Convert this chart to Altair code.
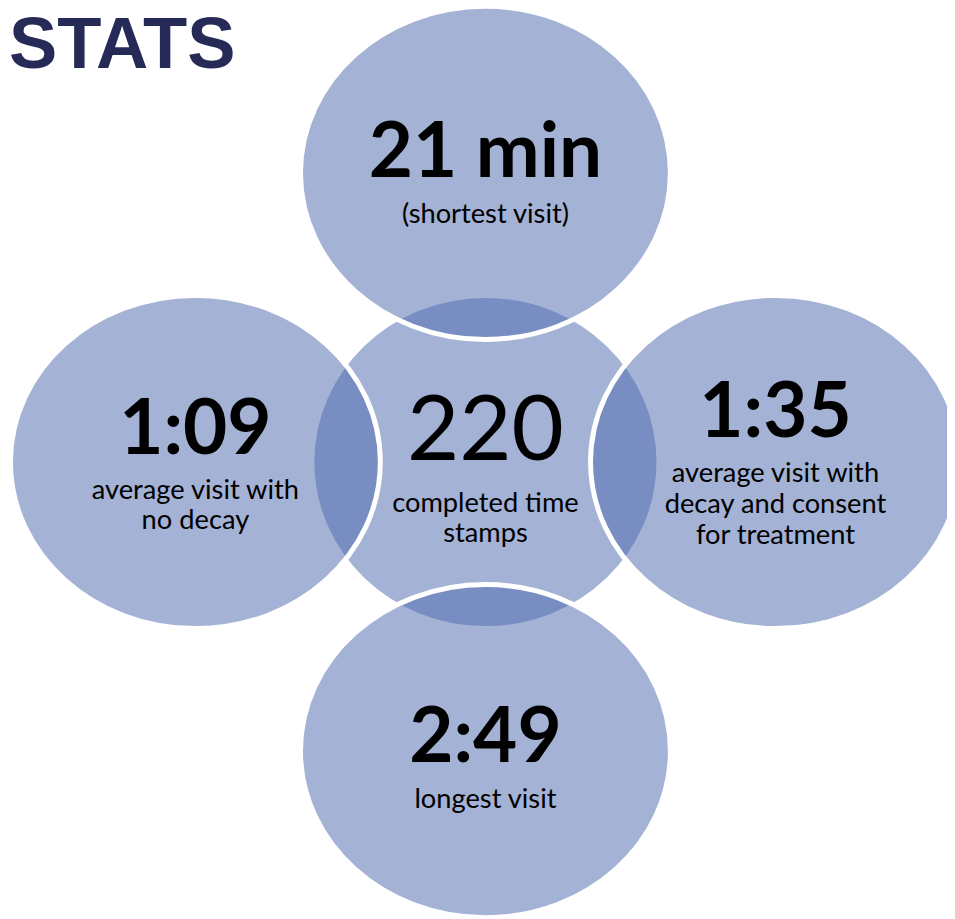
import altair as alt
import pandas as pd

# ---- diagram content -------------------------------------------------------
bubble_col = [0, 0, -1, 1, 0]          # grid column of each bubble (0 = centre)
bubble_row = [0, -1, 0, 0, 1]          # grid row of each bubble (0 = centre)
bubble_kind = ["core", "petal", "petal", "petal", "petal"]
headline = ["220", "21 min", "1:09", "1:35", "2:49"]
caption = [
    ["completed time", "stamps"],
    ["(shortest visit)"],
    ["average visit with", "no decay"],
    ["average visit with", "decay and consent", "for treatment"],
    ["longest visit"],
]
title_text = ["STATS"]

# ---- layout (pixels inside the plot area) -----------------------------------
W, H = 947, 911
X0, DX = 481.5, 292.5
Y0, DY = 454.0, 291.5
LINE = 31
STROKE = 5

bubbles = pd.DataFrame({
    "col": bubble_col,
    "row": bubble_row,
    "kind": bubble_kind,
    "headline": headline,
    "n": [len(c) for c in caption],
})
bubbles["cx"] = X0 + bubbles["col"] * DX
bubbles["cy"] = Y0 + bubbles["row"] * DY
is_core = bubbles["kind"] == "core"
petal_off = 8 - (bubbles["n"] - 1) * 16.5 + bubbles["row"] * 3.5
bubbles["head_y"] = bubbles["cy"] + petal_off.where(~is_core, -2)
bubbles["cap_y0"] = bubbles["head_y"] + pd.Series(45.5, index=bubbles.index).where(~is_core, 52.0)

rows = []
for idx, b in bubbles.iterrows():
    for i, t in enumerate(caption[idx]):
        rows.append({"text": t, "cx": b["cx"], "y": b["cap_y0"] + i * LINE})
lines = pd.DataFrame(rows)


def ellipse_path(ratio, k=0.5523):
    r = ratio
    kr = k * r
    return (f"M-1,0 C-1,{-kr:.4f} {-k},{-r:.4f} 0,{-r:.4f} "
            f"C{k},{-r:.4f} 1,{-kr:.4f} 1,0 "
            f"C1,{kr:.4f} {k},{r:.4f} 0,{r:.4f} "
            f"C{-k},{r:.4f} -1,{kr:.4f} -1,0 Z")


FILL = "#506bae"
ALPHA = 0.52

# radii of the visible shapes, plus half the white outline
core_rx, core_ry = 172.5 + STROKE / 2, 165.5 + STROKE / 2
pet_rx, pet_ry = 184 + STROKE / 2, 165.5 + STROKE / 2

xenc = alt.X("cx:Q", scale=None, axis=None)

base = alt.Chart(bubbles)

core = base.transform_filter(alt.datum.kind == "core").mark_point(
    shape=ellipse_path(core_ry / core_rx), size=(2 * core_rx) ** 2, filled=True,
    fill=FILL, fillOpacity=ALPHA, stroke="white", strokeWidth=STROKE,
    strokeOpacity=1, opacity=1,
).encode(x=xenc, y=alt.Y("cy:Q", scale=None, axis=None))

petals = base.transform_filter(alt.datum.kind == "petal").mark_point(
    shape=ellipse_path(pet_ry / pet_rx), size=(2 * pet_rx) ** 2, filled=True,
    fill=FILL, fillOpacity=ALPHA, stroke="white", strokeWidth=STROKE,
    strokeOpacity=1, opacity=1,
).encode(x=xenc, y=alt.Y("cy:Q", scale=None, axis=None))

heads_petal = base.transform_filter(alt.datum.kind == "petal").mark_text(
    font="Lato", fontWeight="bold", fontSize=77, baseline="alphabetic",
    align="center", color="#000000",
).encode(x=xenc, y=alt.Y("head_y:Q", scale=None, axis=None), text="headline:N")

head_core = base.transform_filter(alt.datum.kind == "core").mark_text(
    font="Lato", fontWeight="normal", fontSize=91, baseline="alphabetic",
    align="center", color="#000000",
).encode(x=xenc, y=alt.Y("head_y:Q", scale=None, axis=None), text="headline:N")

captions = alt.Chart(lines).mark_text(
    font="Lato", fontSize=27.5, baseline="alphabetic", align="center",
    color="#000000",
).encode(x=xenc, y=alt.Y("y:Q", scale=None, axis=None), text="text:N")

title = alt.Chart(pd.DataFrame({"t": title_text})).mark_text(
    font="Liberation Sans", fontWeight="bold", fontSize=73,
    baseline="alphabetic", align="left", color="#262a56",
).encode(x=alt.value(1), y=alt.value(57), text="t:N")

chart = alt.layer(core, petals, heads_petal, head_core, captions, title).properties(
    width=W,
    height=H,
    padding=0,
    autosize=alt.AutoSizeParams(type="none"),
    background="white",
).configure_view(stroke=None)

chart.save("out.html", embed_options={"renderer": "svg", "actions": False})
